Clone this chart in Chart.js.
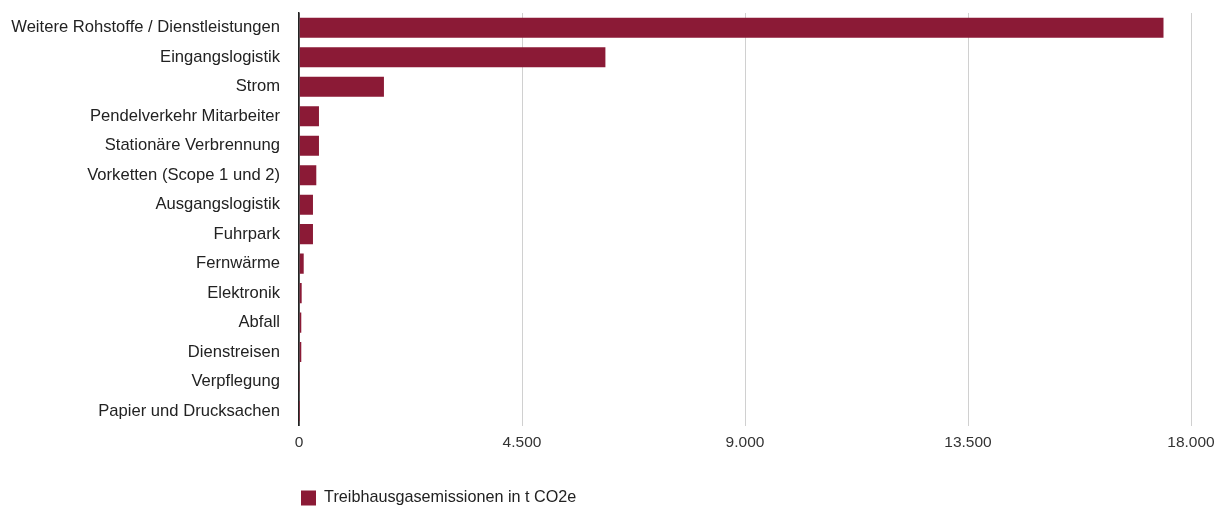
<!DOCTYPE html>
<html>
<head>
<meta charset="utf-8">
<script src="https://cdn.jsdelivr.net/npm/chart.js@4"></script>
<style>
  html, body { margin: 0; padding: 0; background: #fff; }
  #wrap { width: 1219px; height: 508px; }
</style>
</head>
<body>
<div id="wrap"><canvas id="emissionChart"></canvas></div>
<script>
const categories = [
  'Weitere Rohstoffe / Dienstleistungen',
  'Eingangslogistik',
  'Strom',
  'Pendelverkehr Mitarbeiter',
  'Stationäre Verbrennung',
  'Vorketten (Scope 1 und 2)',
  'Ausgangslogistik',
  'Fuhrpark',
  'Fernwärme',
  'Elektronik',
  'Abfall',
  'Dienstreisen',
  'Verpflegung',
  'Papier und Drucksachen'
];
const emissions = [17445, 6183, 1714, 403, 403, 349, 282, 282, 95, 54, 46, 46, 8, 4];
const seriesLabel = 'Treibhausgasemissionen in t CO2e';
const xTicks = [0, 4500, 9000, 13500, 18000];

function formatDe(v) {
  return String(Math.round(v)).replace(/\B(?=(\d{3})+(?!\d))/g, '.');
}

const font = "'Liberation Sans', Arial, sans-serif";
Chart.defaults.font.family = font;

const ctx = document.getElementById('emissionChart').getContext('2d');
new Chart(ctx, {
  type: 'bar',
  data: {
    labels: categories,
    datasets: [{
      label: seriesLabel,
      data: emissions,
      backgroundColor: '#8b1a36',
      borderWidth: 0,
      categoryPercentage: 1,
      barPercentage: 0.68
    }]
  },
  options: {
    indexAxis: 'y',
    responsive: true,
    maintainAspectRatio: false,
    animation: false,
    layout: { padding: { top: 13, right: 0, left: 0, bottom: -8 } },
    scales: {
      x: {
        min: 0,
        max: xTicks[xTicks.length - 1],
        afterBuildTicks: (axis) => { axis.ticks = xTicks.map(v => ({ value: v })); },
        afterFit: (axis) => {
          axis.height = 62;
          axis.paddingRight = 28;
        },
        grid: {
          color: (c) => c.index === 0 ? '#222' : '#d0d0d0',
          lineWidth: (c) => c.index === 0 ? 1.5 : 1,
          drawTicks: false
        },
        border: { display: false },
        ticks: {
          color: '#333',
          font: { size: 15.5 },
          padding: 8,
          maxRotation: 0,
          callback: (v) => formatDe(v)
        }
      },
      y: {
        afterFit: (axis) => {
          axis.width = 299;
          axis.paddingTop = 0;
          axis.paddingBottom = 0;
        },
        grid: { display: false },
        border: { display: true, color: '#222', width: 1.5 },
        ticks: {
          color: '#222',
          font: { size: 16.6 },
          padding: 11,
          autoSkip: false
        }
      }
    },
    plugins: {
      legend: {
        position: 'bottom',
        align: 'start',
        fullSize: false,
        labels: {
          color: '#222',
          font: { size: 16.2 },
          boxWidth: 15,
          boxHeight: 15,
          padding: 2
        }
      },
      tooltip: { enabled: false }
    }
  }
});
</script>
</body>
</html>
